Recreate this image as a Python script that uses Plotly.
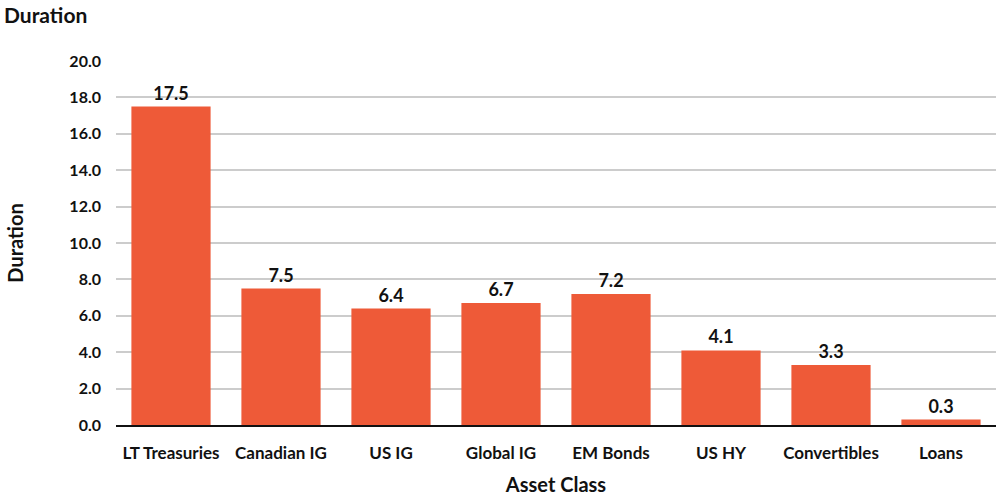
import plotly.graph_objects as go

categories = ["LT Treasuries", "Canadian IG", "US IG", "Global IG", "EM Bonds", "US HY", "Convertibles", "Loans"]
durations = [17.5, 7.5, 6.4, 6.7, 7.2, 4.1, 3.3, 0.3]
y_ticks = [0, 2, 4, 6, 8, 10, 12, 14, 16, 18, 20]

FONT = "Lato"
fig = go.Figure(go.Bar(
    x=categories, y=durations,
    marker=dict(color="#EE5A38", line=dict(width=0)),
    text=[f"{v:.1f}" for v in durations],
    textposition="outside",
    textfont=dict(family=FONT, size=18, color="#111111", weight="bold"),
    cliponaxis=False,
))

fig.update_layout(
    width=1000, height=500,
    margin=dict(l=116, r=4, t=61, b=75),
    paper_bgcolor="white", plot_bgcolor="white",
    bargap=0.28,
    showlegend=False,
    font=dict(family=FONT, color="#111111"),
    title=dict(text="<b>Duration</b>", x=0.004, xanchor="left", y=0.968, yanchor="middle",
               font=dict(family=FONT, size=21, color="#111111")),
    xaxis=dict(
        title=dict(text="<b>Asset Class</b>", font=dict(family=FONT, size=20), standoff=16),
        tickfont=dict(family=FONT, size=17, weight="bold"),
        showline=True, linecolor="#111111", linewidth=2,
        ticks="", showgrid=False, ticklabelstandoff=12,
    ),
    yaxis=dict(
        title=dict(text="<b>Duration</b>", font=dict(family=FONT, size=20), standoff=40),
        range=[0, 20], tickvals=y_ticks, ticktext=[f"{v:.1f}" for v in y_ticks],
        tickfont=dict(family=FONT, size=16, weight="bold"),
        showgrid=True, gridcolor="#cccccc", gridwidth=1.5,
        zeroline=False, ticks="", ticklabelstandoff=14,
    ),
)

fig.write_html("out.html")
